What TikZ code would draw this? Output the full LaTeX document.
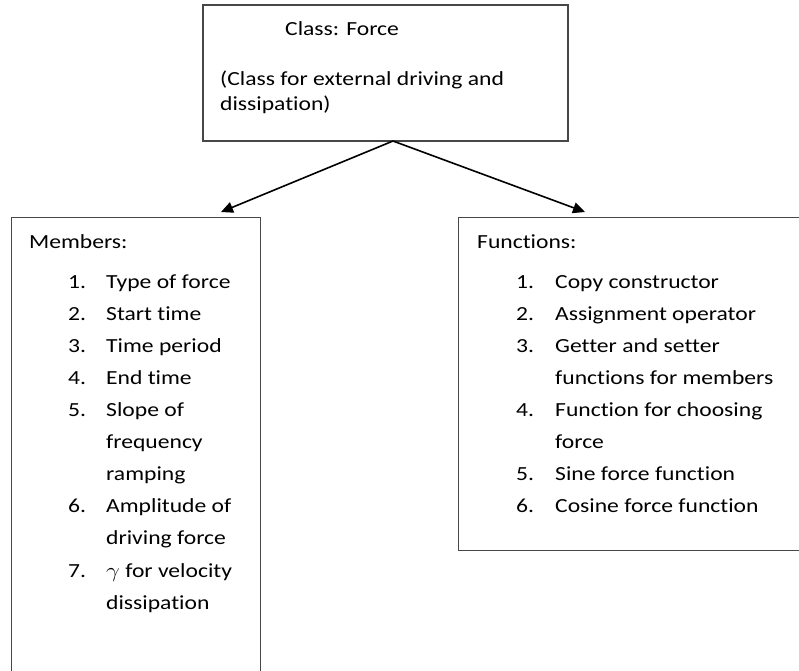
\documentclass[tikz,border=0pt]{standalone}
\usepackage{fontspec}
\usepackage{graphicx}
\setmainfont{Carlito}[FakeStretch=1.18, Ligatures=CommonOff]
\usetikzlibrary{arrows.meta}
\begin{document}
\begin{tikzpicture}[x=1pt,y=-1pt,
  font=\fontsize{20}{25}\selectfont,
  boxline/.style={draw=black!72, line width=1.1pt},
  txt/.style={anchor=base west, inner sep=0pt},
  conn/.style={-{Triangle[length=12pt,width=11pt]}, line width=1.6pt, draw=black}]
\useasboundingbox (0,0) rectangle (799,670);
% top box
\node[boxline, rectangle, minimum width=365pt, minimum height=136pt, inner sep=0pt] (force) at (385.5,73) {};
\node[txt] (t1) at (285,35) {Class: Force};
\node[txt] (t2) at (220,85) {(Class for external driving and};
\node[txt] (t3) at (220,110) {dissipation)};
% left open box
\node[rectangle, minimum width=248pt, minimum height=460pt, inner sep=0pt] (members) at (136,448) {};
\draw[boxline] (members.south west) -- (members.north west) -- (members.north east) -- (members.south east);
% right open box
\node[rectangle, minimum width=345pt, minimum height=332pt, inner sep=0pt] (functions) at (631.5,384) {};
\draw[boxline] (functions.north east) -- (functions.north west) -- (functions.south west) -- (functions.south east);
% connectors
\coordinate (apex) at (393,141);
\coordinate (lt) at (221,212);
\coordinate (rt) at (585,212);
\draw[conn] (apex) -- (lt);
\draw[conn] (apex) -- (rt);
% members text
\node[txt] (mh) at (29,248) {Members:};
\node[txt] (m1n) at (68,288) {1.}; \node[txt] (m1) at (106,288) {Type of force};
\node[txt] (m2n) at (68,320) {2.}; \node[txt] (m2) at (106,320) {Start time};
\node[txt] (m3n) at (68,352) {3.}; \node[txt] (m3) at (106,352) {Time period};
\node[txt] (m4n) at (68,384) {4.}; \node[txt] (m4) at (106,384) {End time};
\node[txt] (m5n) at (68,416) {5.}; \node[txt] (m5) at (106,416) {Slope of};
\node[txt] (m5b) at (106,448) {frequency};
\node[txt] (m5c) at (106,480) {ramping};
\node[txt] (m6n) at (68,512) {6.}; \node[txt] (m6) at (106,512) {Amplitude of};
\node[txt] (m6b) at (106,544) {driving force};
\node[txt] (m7n) at (68,577) {7.}; \node[txt] (m7) at (106,577) {\scalebox{1.18}[1]{$\gamma$} for velocity};
\node[txt] (m7b) at (106,609) {dissipation};
% functions text
\node[txt] (fh) at (477,248) {Functions:};
\node[txt] (f1n) at (516,288) {1.}; \node[txt] (f1) at (555,288) {Copy constructor};
\node[txt] (f2n) at (516,320) {2.}; \node[txt] (f2) at (555,320) {Assignment operator};
\node[txt] (f3n) at (516,352) {3.}; \node[txt] (f3) at (555,352) {Getter and setter};
\node[txt] (f3b) at (555,384) {functions for members};
\node[txt] (f4n) at (516,416) {4.}; \node[txt] (f4) at (555,416) {Function for choosing};
\node[txt] (f4b) at (555,448) {force};
\node[txt] (f5n) at (516,480) {5.}; \node[txt] (f5) at (555,480) {Sine force function};
\node[txt] (f6n) at (516,512) {6.}; \node[txt] (f6) at (555,512) {Cosine force function};
\end{tikzpicture}
\end{document}
